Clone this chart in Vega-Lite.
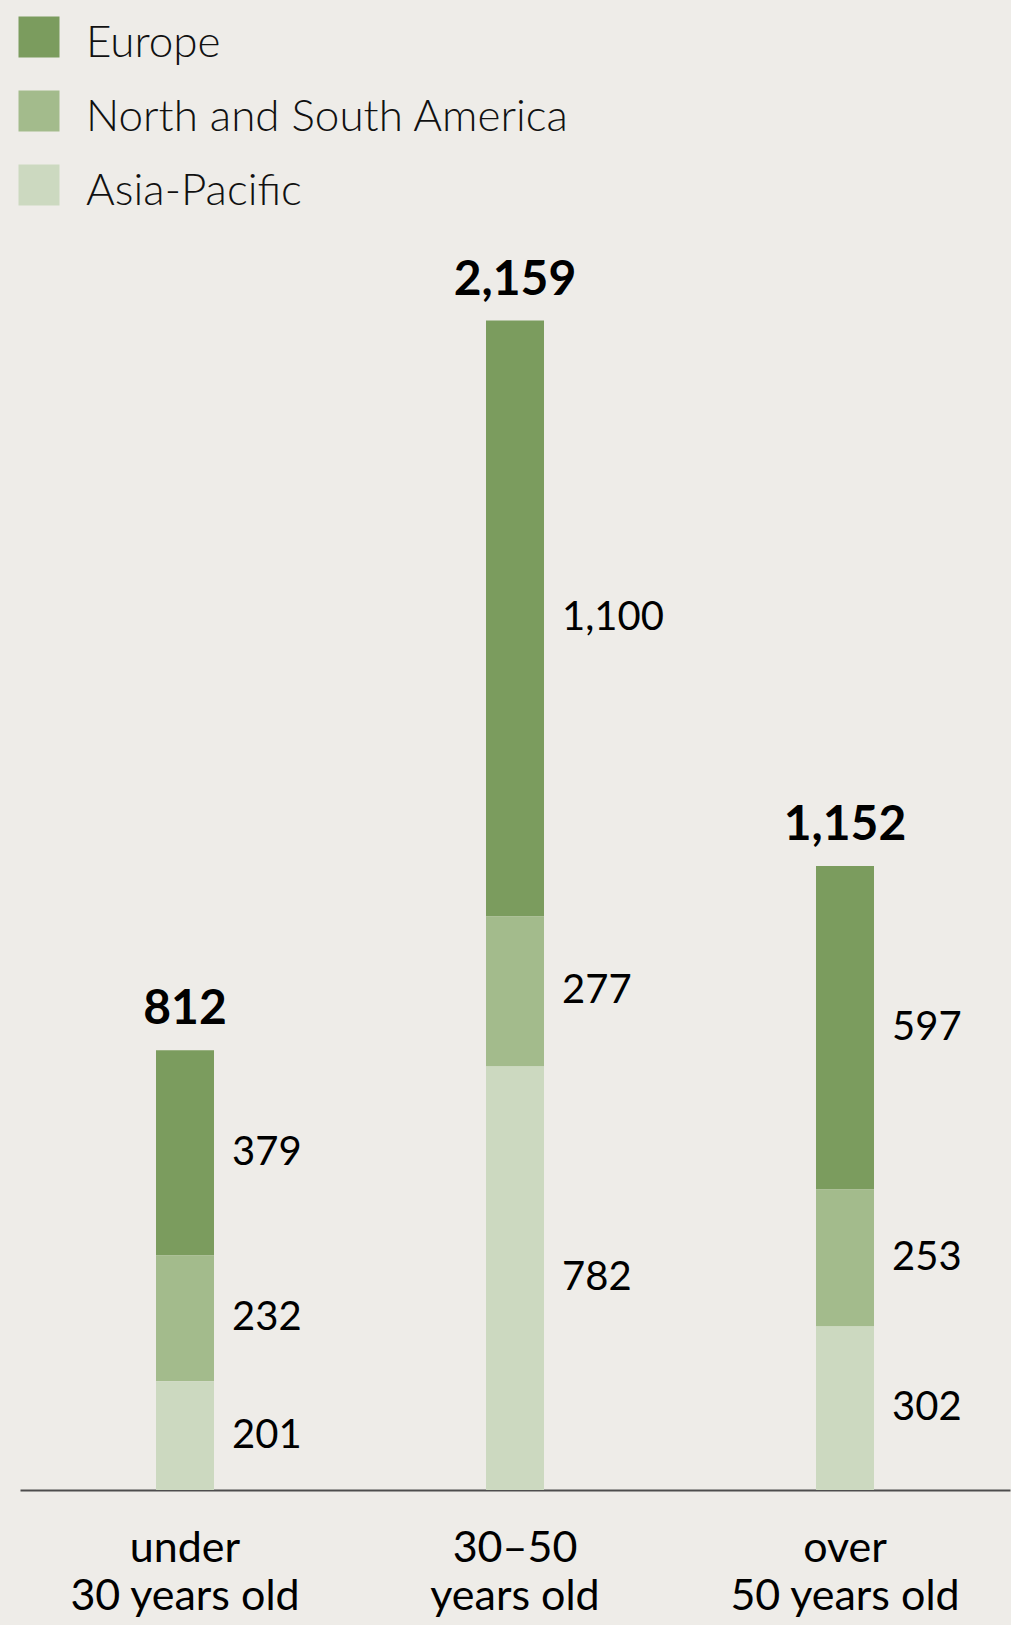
{
  "$schema": "https://vega.github.io/schema/vega-lite/v6.json",
  "width": 990,
  "height": 1300,
  "autosize": {"type": "none"},
  "padding": {"left": 20, "top": 190, "right": 1, "bottom": 135},
  "background": "#eeece8",
  "config": {"view": {"stroke": null}, "font": "Lato"},
  "data": {
    "values": [
      {"group": "under|30 years old", "region": "Europe", "value": 379},
      {"group": "under|30 years old", "region": "North and South America", "value": 232},
      {"group": "under|30 years old", "region": "Asia-Pacific", "value": 201},
      {"group": "30–50|years old", "region": "Europe", "value": 1100},
      {"group": "30–50|years old", "region": "North and South America", "value": 277},
      {"group": "30–50|years old", "region": "Asia-Pacific", "value": 782},
      {"group": "over|50 years old", "region": "Europe", "value": 597},
      {"group": "over|50 years old", "region": "North and South America", "value": 253},
      {"group": "over|50 years old", "region": "Asia-Pacific", "value": 302}
    ]
  },
  "transform": [
    {"calculate": "indexof(['Asia-Pacific','North and South America','Europe'], datum.region)", "as": "ord"},
    {"stack": "value", "groupby": ["group"], "sort": [{"field": "ord", "order": "ascending"}], "as": ["v0", "v1"]},
    {"calculate": "(datum.v0 + datum.v1) / 2", "as": "mid"}
  ],
  "encoding": {
    "x": {
      "field": "group",
      "type": "nominal",
      "sort": ["under|30 years old", "30–50|years old", "over|50 years old"],
      "scale": {"paddingInner": 0, "paddingOuter": 0},
      "axis": {
        "title": null,
        "labelExpr": "split(datum.label, '|')",
        "labelAngle": 0,
        "labelLimit": 0,
        "labelOverlap": false,
        "domainColor": "#4d4d4d",
        "domainWidth": 2,
        "ticks": false,
        "labelFontSize": 43,
        "labelFont": "Lato",
        "labelColor": "#000000",
        "labelPadding": 37,
        "labelLineHeight": 48
      }
    }
  },
  "layer": [
    {
      "mark": {"type": "bar", "width": 58},
      "encoding": {
        "y": {"field": "v0", "type": "quantitative", "scale": {"domain": [0, 2400]}, "axis": null},
        "y2": {"field": "v1"},
        "color": {
          "field": "region",
          "type": "nominal",
          "scale": {
            "domain": ["Europe", "North and South America", "Asia-Pacific"],
            "range": ["#7b9c5e", "#a3bb8c", "#ccd9c0"]
          },
          "legend": {
            "title": null,
            "orient": "none",
            "legendX": -3,
            "legendY": -175,
            "symbolType": "square",
            "symbolSize": 1681,
            "symbolStrokeWidth": 0,
            "symbolOpacity": 1,
            "labelFontSize": 44,
            "labelOffset": 25,
            "rowPadding": 23,
            "padding": 0,
            "labelFont": "Lato",
            "labelFontWeight": 300,
            "labelColor": "#111111",
            "labelLimit": 0,
            "encode": {"labels": {"update": {"dy": {"value": 7}}}}
          }
        }
      }
    },
    {
      "mark": {"type": "text", "align": "left", "dx": 47, "baseline": "middle", "fontSize": 40, "color": "#000000"},
      "encoding": {
        "y": {"field": "mid", "type": "quantitative", "axis": null},
        "text": {"field": "value", "type": "quantitative", "format": ","}
      }
    },
    {
      "transform": [{"aggregate": [{"op": "sum", "field": "value", "as": "total"}], "groupby": ["group"]}],
      "mark": {"type": "text", "fontWeight": "bold", "fontSize": 48, "dy": -26, "baseline": "alphabetic", "color": "#000000"},
      "encoding": {
        "y": {"field": "total", "type": "quantitative", "axis": null},
        "text": {"field": "total", "type": "quantitative", "format": ","}
      }
    }
  ]
}
